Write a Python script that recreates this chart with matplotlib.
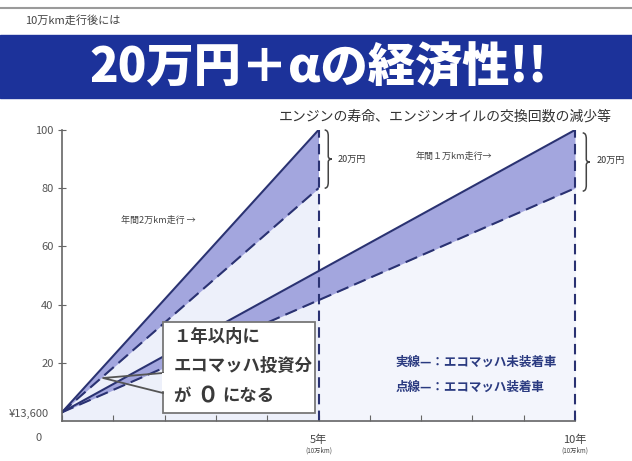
import numpy as np
import matplotlib
matplotlib.use('Agg')
import matplotlib.pyplot as plt
from matplotlib.patches import Rectangle, PathPatch
from matplotlib.path import Path

plt.rcParams['font.family'] = ['Noto Sans CJK JP', 'DejaVu Sans']

## data (y in 万円, x in years)
start_value = 3          # ¥13,600 starting point
years_2man = [0, 5]      # 年間2万km
solid_2man = [start_value, 100]
dash_2man = [start_value, 80]
years_1man = [0, 10]     # 年間1万km
solid_1man = [start_value, 100]
dash_1man = [start_value, 80]
yticks = [20, 40, 60, 80, 100]
xticks = list(range(0, 11))

W, H = 632, 461
fig = plt.figure(figsize=(W / 100, H / 100), dpi=100)
fig.patch.set_facecolor('white')

def px(x, y):
    return x / W, 1 - y / H

# header
fig.add_artist(plt.Line2D([0, 1], [1 - 8 / H] * 2, color='#9a9a9a', lw=1.5))
fig.text(*px(25, 20), '10万km走行後には', fontsize=8, color='#444444', va='center')
fig.add_artist(Rectangle(px(0, 98), 1, 63 / H, color='#1c329a', transform=fig.transFigure))
fig.text(*px(318, 68), '20万円＋αの経済性!!', fontsize=34, fontweight='heavy',
         color='white', ha='center', va='center')
fig.text(*px(612, 117), 'エンジンの寿命、エンジンオイルの交換回数の減少等', fontsize=10,
         color='#333333', ha='right', va='center')

# axes: x 0..10 -> px 62..575, y 0..100 -> px 421..130
ax = fig.add_axes([62 / W, (H - 421) / H, (575 - 62) / W, (421 - 130) / H])
ax.set_xlim(0, 10)
ax.set_ylim(0, 100)
for s in ['top', 'right']:
    ax.spines[s].set_visible(False)
for s in ['left', 'bottom']:
    ax.spines[s].set_color('#666666')
    ax.spines[s].set_linewidth(1.2)

navy = '#2a3272'
band = '#a3a6de'
light = '#edf0fa'

# light background under dashed lines
ax.fill_between(years_2man, 0, dash_2man, color=light, lw=0)
ax.fill_between(years_1man, 0, dash_1man, color=light, lw=0)
ax.fill_between([5, 10], 0, [np.interp(5, years_1man, dash_1man), 80], color='#f3f5fc', lw=0)

# bands
ax.fill_between(years_2man, dash_2man, solid_2man, color=band, lw=0)
ax.fill_between(years_1man, dash_1man, solid_1man, color=band, lw=0)

ax.plot(years_2man, solid_2man, color=navy, lw=1.5)
ax.plot(years_2man, dash_2man, color=navy, lw=1.5, dashes=(6, 3))
ax.plot(years_1man, solid_1man, color=navy, lw=1.5)
ax.plot(years_1man, dash_1man, color=navy, lw=1.5, dashes=(6, 3))

# vertical dashed lines
for xv in [5, 10]:
    ax.plot([xv, xv], [0, 100], color=navy, lw=1.5, dashes=(5, 3), clip_on=False)

ax.set_yticks(yticks)
ax.set_yticklabels([str(v) for v in yticks], fontsize=8, color='#555555')
ax.set_xticks(xticks)
ax.set_xticklabels([])
ax.tick_params(axis='y', direction='inout', length=6, color='#666666', pad=3)
ax.tick_params(axis='x', direction='in', length=4, color='#666666')

ax.text(-0.25, start_value - 0.5, '¥13,600', fontsize=8, color='#555555', ha='right', va='center')
ax.text(-0.45, -6, '0', fontsize=8, color='#555555', ha='center', va='center')
for xv in [5, 10]:
    ax.text(xv, -6.5, f'{xv}年', fontsize=8, color='#444444', ha='center', va='center')
    ax.text(xv, -10, '(10万km)', fontsize=4.5, color='#444444', ha='center', va='center')

# braces
def brace(x, y0, y1, w):
    ym = (y0 + y1) / 2
    verts = [(x, y1), (x + w, y1), (x + w, y1 - 2),
             (x + w, ym + 1), (x + w, ym), (x + 2 * w, ym),
             (x + w, ym), (x + w, ym - 1),
             (x + w, y0 + 2), (x + w, y0), (x, y0)]
    codes = [Path.MOVETO, Path.CURVE3, Path.CURVE3,
             Path.LINETO, Path.CURVE3, Path.CURVE3,
             Path.CURVE3, Path.CURVE3,
             Path.LINETO, Path.CURVE3, Path.CURVE3]
    ax.add_patch(PathPatch(Path(verts, codes), fill=False, ec='#444444', lw=1.1, clip_on=False))

brace(5.12, 80, 100, 0.07)
brace(10.15, 79, 99, 0.07)
ax.text(5.38, 90, '20万円', fontsize=6.5, color='#333333', va='center')
ax.text(10.42, 89.5, '20万円', fontsize=6.5, color='#333333', va='center')

ax.text(1.15, 69, '年間2万km走行 →', fontsize=6.5, color='#444444', va='center')
ax.text(6.9, 91, '年間１万km走行→', fontsize=6.5, color='#444444', va='center')

# legend text
ax.text(6.5, 20, '実線—：エコマッハ未装着車', fontsize=9, color='#2a3a80', fontweight='bold', va='center')
ax.text(6.5, 11.5, '点線—：エコマッハ装着車', fontsize=9, color='#2a3a80', fontweight='bold', va='center')

# callout box
box_x0, box_x1 = (163 - 62) / 51.3, (315 - 62) / 51.3
box_y0, box_y1 = (421 - 413) / 2.91, (421 - 322) / 2.91
ax.add_patch(Rectangle((box_x0, box_y0), box_x1 - box_x0, box_y1 - box_y0,
                       fc='white', ec='#777777', lw=1.3, zorder=5))
apex = ((103 - 62) / 51.3, (421 - 378) / 2.91)
ax.plot([box_x0, apex[0], box_x0], [(421 - 373) / 2.91, apex[1], (421 - 393) / 2.91],
        color='#555555', lw=1.3, zorder=6)
ax.add_patch(Rectangle((box_x0 - 0.02, (421 - 391) / 2.91), 0.05, 6.2, fc='white', ec='none', zorder=6))
bx = box_x0 + 0.2
ax.text(bx, 29, '１年以内に', fontsize=12.5, fontweight='bold', color='#3a3a3a', va='center', zorder=7)
ax.text(bx, 19, 'エコマッハ投資分', fontsize=12.5, fontweight='bold', color='#3a3a3a', va='center', zorder=7)
ax.text(bx, 8.5, 'が', fontsize=12.5, fontweight='bold', color='#3a3a3a', va='center', zorder=7)
ax.text(bx + 0.45, 8.5, '０', fontsize=16, fontweight='bold', color='#3a3a3a', va='center', zorder=7)
ax.text(bx + 0.95, 8.5, 'になる', fontsize=12.5, fontweight='bold', color='#3a3a3a', va='center', zorder=7)

fig.savefig('out.png', dpi=100)
